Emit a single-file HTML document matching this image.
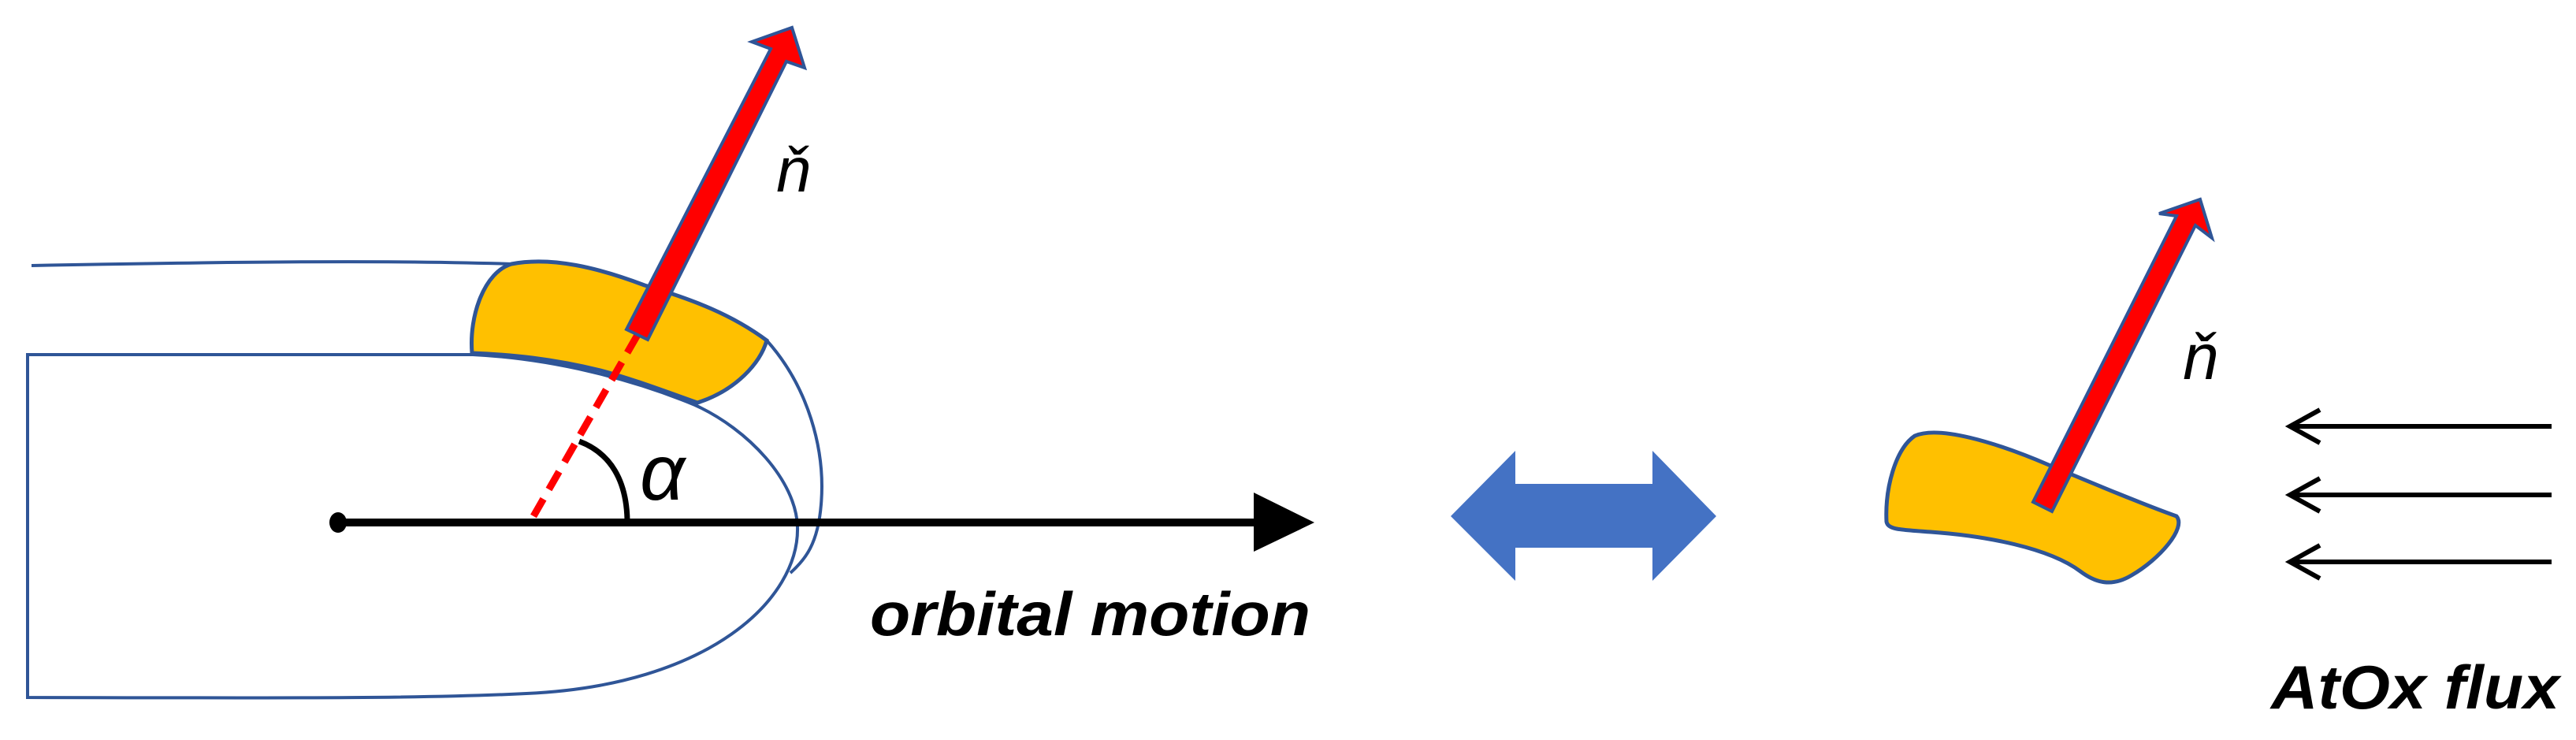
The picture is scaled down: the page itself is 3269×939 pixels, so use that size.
<!DOCTYPE html>
<html><head><meta charset="utf-8"><style>
html,body{margin:0;padding:0;background:#fff;}
svg{display:block;}
</style></head><body>
<svg width="3269" height="939" viewBox="0 0 3269 939" xmlns="http://www.w3.org/2000/svg">
<rect width="3269" height="939" fill="#fff"/>
<g fill="none" stroke="#2F5597" stroke-width="4">
  <path d="M40 337 C300 332 500 330 650 335"/>
  <path d="M973 432 C1025 490 1048 570 1042 640 C1038 690 1022 710 1003 727"/>
  <path d="M35 450 L600 450 C700 455 800 480 882 514 C950 545 1010 610 1012 668 C1015 760 900 870 668 880 C550 886 400 886 35 885 Z"/>
</g>
<path d="M599 448 C595 400 615 345 649 335 C700 325 760 340 818 362 C880 380 930 400 973 432 C965 460 935 495 885 511 C840 495 800 480 762 470 C700 455 650 450 599 448 Z" fill="#FFC000" stroke="#2F5597" stroke-width="5"/>
<line x1="809" y1="425" x2="677" y2="655" stroke="#FF0000" stroke-width="9" stroke-dasharray="26 14"/>
<polygon points="795,418 978,62 954,53 1005,35 1021,86 998,78 822,431" fill="#FF0000" stroke="#2F5597" stroke-width="4"/>
<line x1="429" y1="663" x2="1595" y2="663" stroke="#000" stroke-width="10"/>
<ellipse cx="429" cy="663" rx="11" ry="13" fill="#000"/>
<polygon points="1591,625 1668,663 1591,700" fill="#000"/>
<path d="M735 560 C775 575 795 610 796 660" fill="none" stroke="#000" stroke-width="7"/>
<text x="812" y="634" font-family="Liberation Sans, sans-serif" font-style="italic" font-size="100" fill="#000">α</text>
<text x="985" y="243" font-family="Liberation Sans, sans-serif" font-style="italic" font-size="80" fill="#000">ň</text>
<text x="1104" y="806" font-family="Liberation Sans, sans-serif" font-style="italic" font-weight="bold" font-size="78" fill="#000" textLength="559" lengthAdjust="spacingAndGlyphs">orbital motion</text>
<polygon points="1841,655 1923,572 1923,614 2097,614 2097,572 2178,655 2097,737 2097,695 1923,695 1923,737" fill="#4472C4"/>
<path d="M2394 662 C2392 620 2405 570 2430 553 C2460 540 2530 560 2600 590 C2660 615 2720 640 2762 655 C2775 670 2740 710 2705 730 C2680 745 2660 740 2640 725 C2600 695 2520 680 2450 675 C2410 672 2396 672 2394 662 Z" fill="#FFC000" stroke="#2F5597" stroke-width="5"/>
<polygon points="2580,637 2762,274 2740,271 2792,253 2807,302 2786,286 2604,649" fill="#FF0000" stroke="#2F5597" stroke-width="4"/>
<text x="2770" y="481" font-family="Liberation Sans, sans-serif" font-style="italic" font-size="82" fill="#000">ň</text>
<g stroke="#000" stroke-width="6" fill="none">
  <line x1="2906" y1="541" x2="3238" y2="541"/>
  <line x1="2906" y1="628" x2="3238" y2="628"/>
  <line x1="2906" y1="713" x2="3238" y2="713"/>
  <polyline points="2944,520 2906,541 2944,562"/>
  <polyline points="2944,607 2906,628 2944,649"/>
  <polyline points="2944,692 2906,713 2944,734"/>
</g>
<text x="2882" y="899" font-family="Liberation Sans, sans-serif" font-style="italic" font-weight="bold" font-size="78" fill="#000" textLength="366" lengthAdjust="spacingAndGlyphs">AtOx flux</text>
</svg>
</body></html>
